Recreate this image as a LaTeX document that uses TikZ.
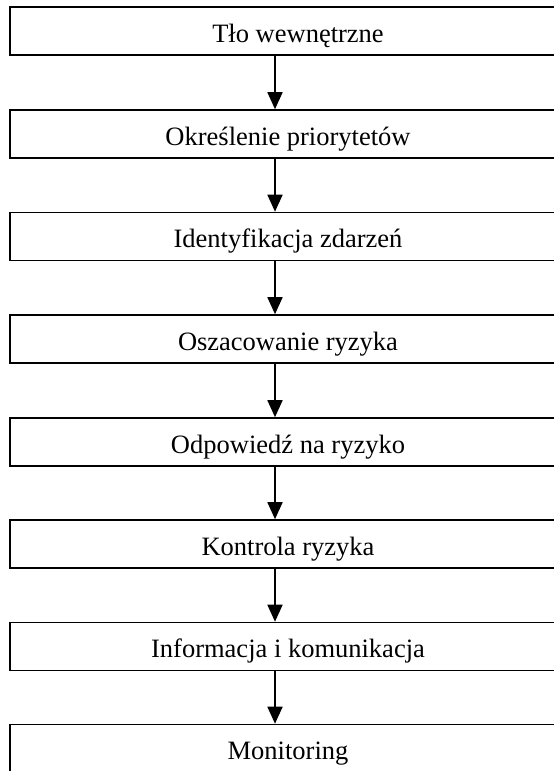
\documentclass[tikz,border=0pt]{standalone}
\usepackage{fontspec}
\setmainfont{Liberation Serif}
\usetikzlibrary{arrows.meta}
\newcommand{\lowtxt}[1]{\raisebox{-11pt}[0pt][0pt]{#1}}
\begin{document}
\begin{tikzpicture}[x=1pt,y=-1pt,
  stagebox/.style={draw=black, line width=1.6pt, rectangle, minimum width=556pt, minimum height=48pt, inner sep=0pt, font=\fontsize{26.5}{30}\selectfont},
  flow/.style={line width=1.8pt, -{Triangle[length=17pt,width=15pt]}}]
\useasboundingbox (0,0) rectangle (554,771);
\clip (0,0) rectangle (554,771);
\fill[white] (0,0) rectangle (554,771);
\node[stagebox] (b1) at (288,31) {\lowtxt{\hspace*{20pt}Tło wewnętrzne}};
\node[stagebox] (b2) at (288,134) {\lowtxt{Określenie priorytetów}};
\node[stagebox] (b3) at (288,236.5) {\lowtxt{Identyfikacja zdarzeń}};
\node[stagebox] (b4) at (288,339) {\lowtxt{Oszacowanie ryzyka}};
\node[stagebox] (b5) at (288,442) {\lowtxt{Odpowiedź na ryzyko}};
\node[stagebox] (b6) at (288,544) {\lowtxt{Kontrola ryzyka}};
\node[stagebox] (b7) at (288,646.5) {\lowtxt{Informacja i komunikacja}};
\node[stagebox] (b8) at (288,748.5) {\lowtxt{Monitoring}};
\foreach \a/\b in {b1/b2,b2/b3,b3/b4,b4/b5,b5/b6,b6/b7,b7/b8}{
  \draw[flow] (\a.south -| 275,0) -- (\b.north -| 275,0);
}
\end{tikzpicture}
\end{document}
